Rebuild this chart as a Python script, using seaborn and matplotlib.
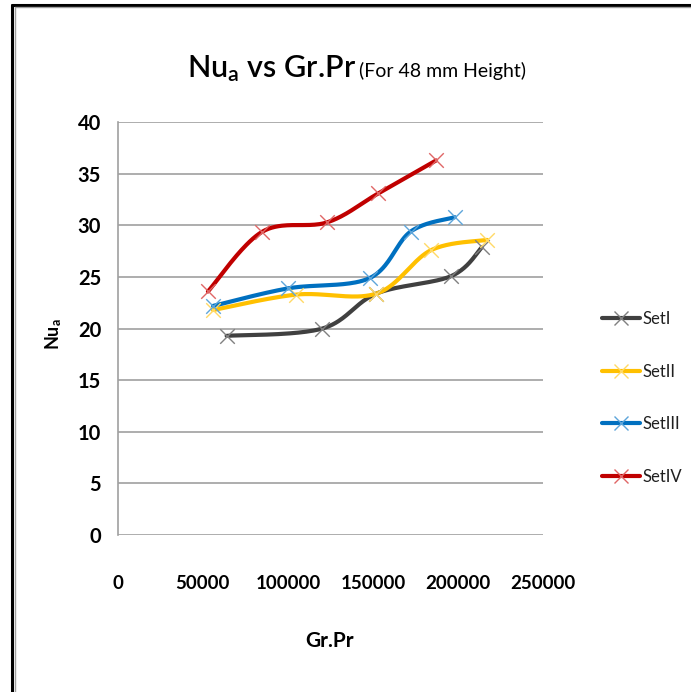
import numpy as np
import pandas as pd
import matplotlib
matplotlib.use("Agg")
import matplotlib.pyplot as plt
from matplotlib.lines import Line2D
import seaborn as sns

# ---- data ----
set_names = ["SetI", "SetII", "SetIII", "SetIV"]
set1_x = [64000, 120000, 152000, 196000, 214000]
set1_y = [19.3, 20.0, 23.4, 25.1, 27.9]
set2_x = [56000, 105000, 152000, 184000, 217000]
set2_y = [21.8, 23.3, 23.4, 27.6, 28.6]
set3_x = [56000, 100000, 148000, 172000, 198000]
set3_y = [22.2, 23.9, 24.9, 29.4, 30.8]
set4_x = [53000, 85000, 123000, 153000, 187000]
set4_y = [23.6, 29.4, 30.3, 33.1, 36.3]
x_ticks = [0, 50000, 100000, 150000, 200000, 250000]
y_ticks = [0, 5, 10, 15, 20, 25, 30, 35, 40]

line_colors = ["#404040", "#FFC000", "#0070C0", "#C00000"]
marker_colors = ["#808080", "#FFD966", "#5DA5DA", "#E06666"]

sns.set_theme(style="white")
plt.rcParams["font.family"] = ["Lato", "DejaVu Sans"]
plt.rcParams["mathtext.fontset"] = "custom"
plt.rcParams["mathtext.rm"] = "Lato"
plt.rcParams["mathtext.it"] = "Lato"
plt.rcParams["mathtext.bf"] = "Lato:bold"


def excel_smooth(xs, ys, n=40):
    """Excel-style smoothed line (cubic Bezier through the points)."""
    P = np.column_stack([xs, ys]).astype(float)
    m = len(P)
    out = []
    for i in range(m - 1):
        p0 = P[i - 1] if i > 0 else P[i]
        p1 = P[i]
        p2 = P[i + 1]
        p3 = P[i + 2] if i + 2 < m else P[i + 1]
        c1 = p1 + (p2 - p0) / 6.0
        c2 = p2 - (p3 - p1) / 6.0
        t = np.linspace(0, 1, n)[:, None]
        seg = ((1 - t) ** 3) * p1 + 3 * ((1 - t) ** 2) * t * c1 + 3 * (1 - t) * t ** 2 * c2 + t ** 3 * p2
        out.append(seg if i == 0 else seg[1:])
    return np.vstack(out)


fig = plt.figure(figsize=(6.91, 6.92), dpi=100)
fig.patch.set_facecolor("white")
ax = fig.add_axes([0.1703, 0.2269, 0.616, 0.5964])

series = [(set1_x, set1_y), (set2_x, set2_y), (set3_x, set3_y), (set4_x, set4_y)]
for (xs, ys), name, lc, mc in zip(series, set_names, line_colors, marker_colors):
    curve = excel_smooth(xs, ys)
    dfc = pd.DataFrame({"x": curve[:, 0], "y": curve[:, 1]})
    sns.lineplot(data=dfc, x="x", y="y", sort=False, estimator=None, ax=ax,
                 color=lc, linewidth=3.0, zorder=3, legend=False)
    dfp = pd.DataFrame({"x": xs, "y": ys})
    sns.scatterplot(data=dfp, x="x", y="y", ax=ax, marker="x", s=110,
                    color=mc, linewidth=1.0, zorder=4, legend=False)

ax.set_xlim(0, 250000)
ax.set_ylim(0, 40)
ax.set_xticks(x_ticks)
ax.set_xticklabels([str(v) for v in x_ticks])
ax.set_yticks(y_ticks)
ax.set_yticklabels([str(v) for v in y_ticks])
ax.grid(axis="y", color="#A0A0A0", linewidth=1.2)
ax.grid(axis="x", visible=False)
ax.set_axisbelow(True)
for s in ["top", "right", "bottom"]:
    ax.spines[s].set_visible(False)
ax.spines["left"].set_color("#A0A0A0")
ax.spines["left"].set_linewidth(1.2)
ax.tick_params(axis="y", labelsize=14.5, pad=12, length=0)
ax.tick_params(axis="x", labelsize=13.5, pad=29, length=0)
for lab in ax.get_xticklabels() + ax.get_yticklabels():
    lab.set_fontweight("bold")
    lab.set_color("black")
ax.set_xlabel("")
ax.set_ylabel("")

# axis titles
fig.text(330 / 691, 1 - 641 / 692, "Gr.Pr", ha="center", va="center",
         fontsize=15, fontweight="bold", color="black")
fig.text(54 / 691, 1 - 334 / 692, r"Nu$_\mathregular{a}$", ha="center", va="center",
         rotation=90, fontsize=13, fontweight="bold", color="black")

# chart title
fig.text(0.515, 1 - 77 / 692, r"Nu$_\mathregular{a}$ vs Gr.Pr", ha="right", va="baseline",
         fontsize=22, fontweight="semibold", color="black")
fig.text(0.520, 1 - 77 / 692, "(For 48 mm Height)", ha="left", va="baseline",
         fontsize=14, color="black")

# legend
handles = [Line2D([0], [0], color=lc, linewidth=3.0, marker="x", markersize=10,
                  markeredgecolor=mc, markeredgewidth=1.0)
           for lc, mc in zip(line_colors, marker_colors)]
leg = fig.legend(handles, set_names, loc="center left", bbox_to_anchor=(0.849, 0.425),
                 frameon=False, fontsize=12, labelspacing=2.2, handlelength=2.3,
                 handletextpad=0.15)
for t in leg.get_texts():
    t.set_color("#202020")

# outer frame (left and top)
fig.add_artist(Line2D([12 / 691, 12 / 691], [0, 1 - 5 / 692], color="black", linewidth=2.2,
                      transform=fig.transFigure))
fig.add_artist(Line2D([12 / 691, 1], [1 - 5 / 692, 1 - 5 / 692], color="black", linewidth=2.2,
                      transform=fig.transFigure))
fig.add_artist(Line2D([14.8 / 691, 14.8 / 691], [0, 1 - 7 / 692], color="#A0A0A0", linewidth=1.0,
                      transform=fig.transFigure))
fig.add_artist(Line2D([14.8 / 691, 1], [1 - 7 / 692, 1 - 7 / 692], color="#A0A0A0", linewidth=1.0,
                      transform=fig.transFigure))

fig.savefig("out.png", dpi=100)
